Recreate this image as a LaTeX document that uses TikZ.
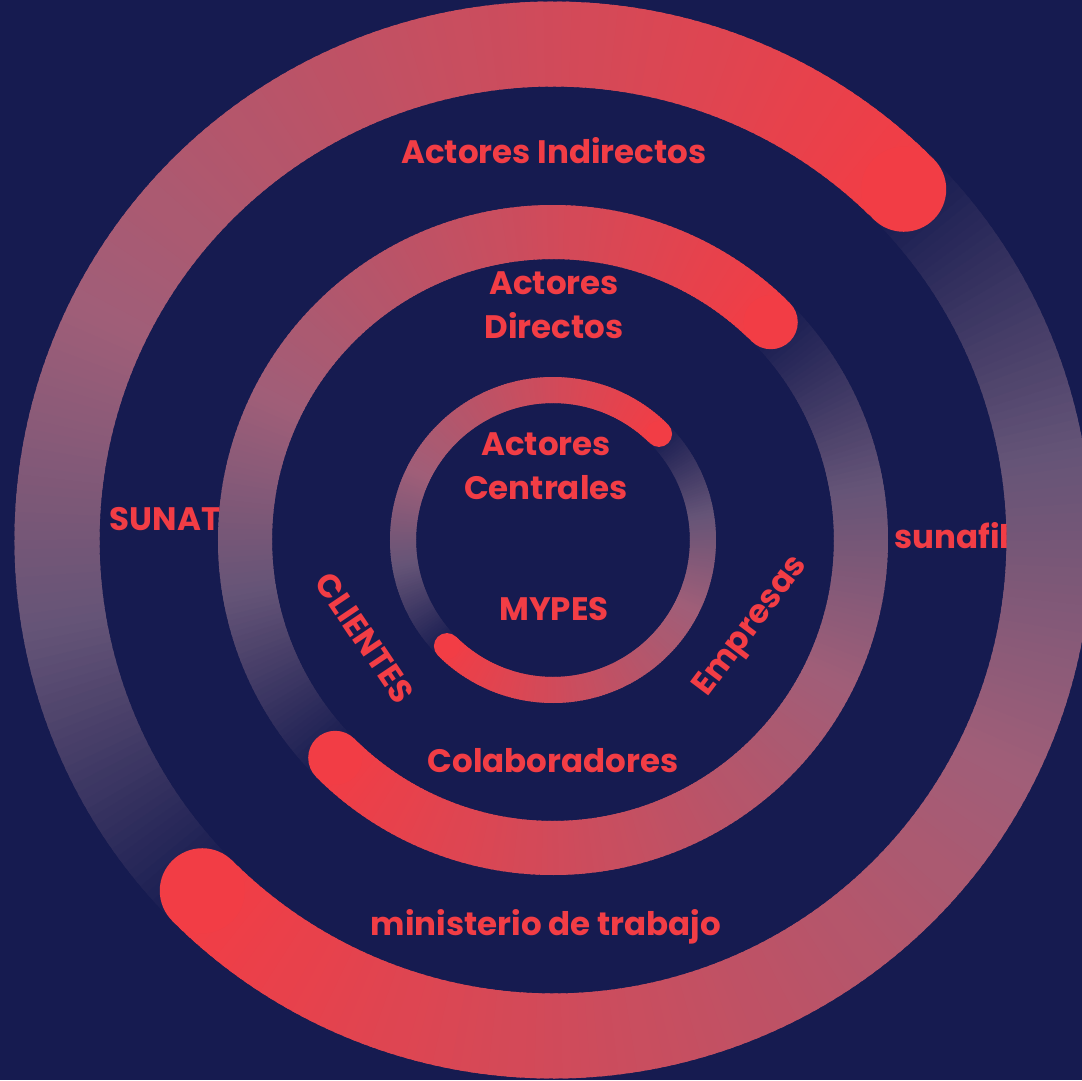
\documentclass[tikz,border=0pt]{standalone}
\usepackage{fontspec}
\setmainfont{Poppins}
\definecolor{navy}{HTML}{161B50}
\definecolor{brand}{HTML}{F23D45}
\definecolor{mauve}{HTML}{A05E78}
\definecolor{dusk}{HTML}{655477}

\begin{document}
\begin{tikzpicture}[x = 1pt, y = 1pt, font = \fontsize{32.5}{38}\selectfont\bfseries]
    \tikzset{
      ringtext/.style = {text = brand, anchor = base, inner sep = 0pt},
      tilted/.style = {text = brand, anchor = center, inner sep = 0pt, rotate = #1},
    }

    \useasboundingbox (-553, -540) rectangle (529, 540);
    \fill[navy] (-553, -540) rectangle (529, 540);

    \foreach \rad/\wid in {496/85, 308/54, 150/26} {
      \foreach \start in {45, 225} {
        \foreach \i in {0, ..., 179} {
          \ifnum\i<108
            \pgfmathtruncatemacro\pct{100*\i/108}
            \colorlet{segcol}{mauve!\pct!brand}
          \else\ifnum\i<144
            \pgfmathtruncatemacro\pct{100*(\i-108)/36}
            \colorlet{segcol}{dusk!\pct!mauve}
          \else
            \pgfmathtruncatemacro\pct{100*(\i-144)/36}
            \colorlet{segcol}{navy!\pct!dusk}
          \fi\fi
          \draw[segcol, line width = \wid pt] (\start+\i:\rad) arc[start angle = \start+\i, delta angle = 1.6, radius = \rad];
        }
      }
    }
    \foreach \rad/\wid in {496/85, 308/54, 150/26} {
      \foreach \start in {45, 225} {
        \fill[brand] (\start:\rad) circle[radius = \wid/2];
      }
    }

    \node[ringtext] (indirectos) at (1, 377) {Actores Indirectos};
    \node[ringtext] (directos1) at (1, 246) {Actores};
    \node[ringtext] (directos2) at (1, 202) {Directos};
    \node[ringtext] (centrales1) at (-7, 85) {Actores};
    \node[ringtext] (centrales2) at (-7, 41) {Centrales};
    \node[ringtext] (mypes) at (1, -80) {MYPES};
    \node[ringtext] (colaboradores) at (0, -232) {Colaboradores};
    \node[ringtext] (ministerio) at (-7, -395) {ministerio de trabajo};
    \node[ringtext] (sunat) at (-388, 10) {SUNAT};
    \node[ringtext] (sunafil) at (399, -8) {sunafil};
    \node[tilted = -56] (clientes) at (-188, -98) {CLIENTES};
    \node[tilted = 53] (empresas) at (199, -87) {Empresas};
\end{tikzpicture}
\end{document}
